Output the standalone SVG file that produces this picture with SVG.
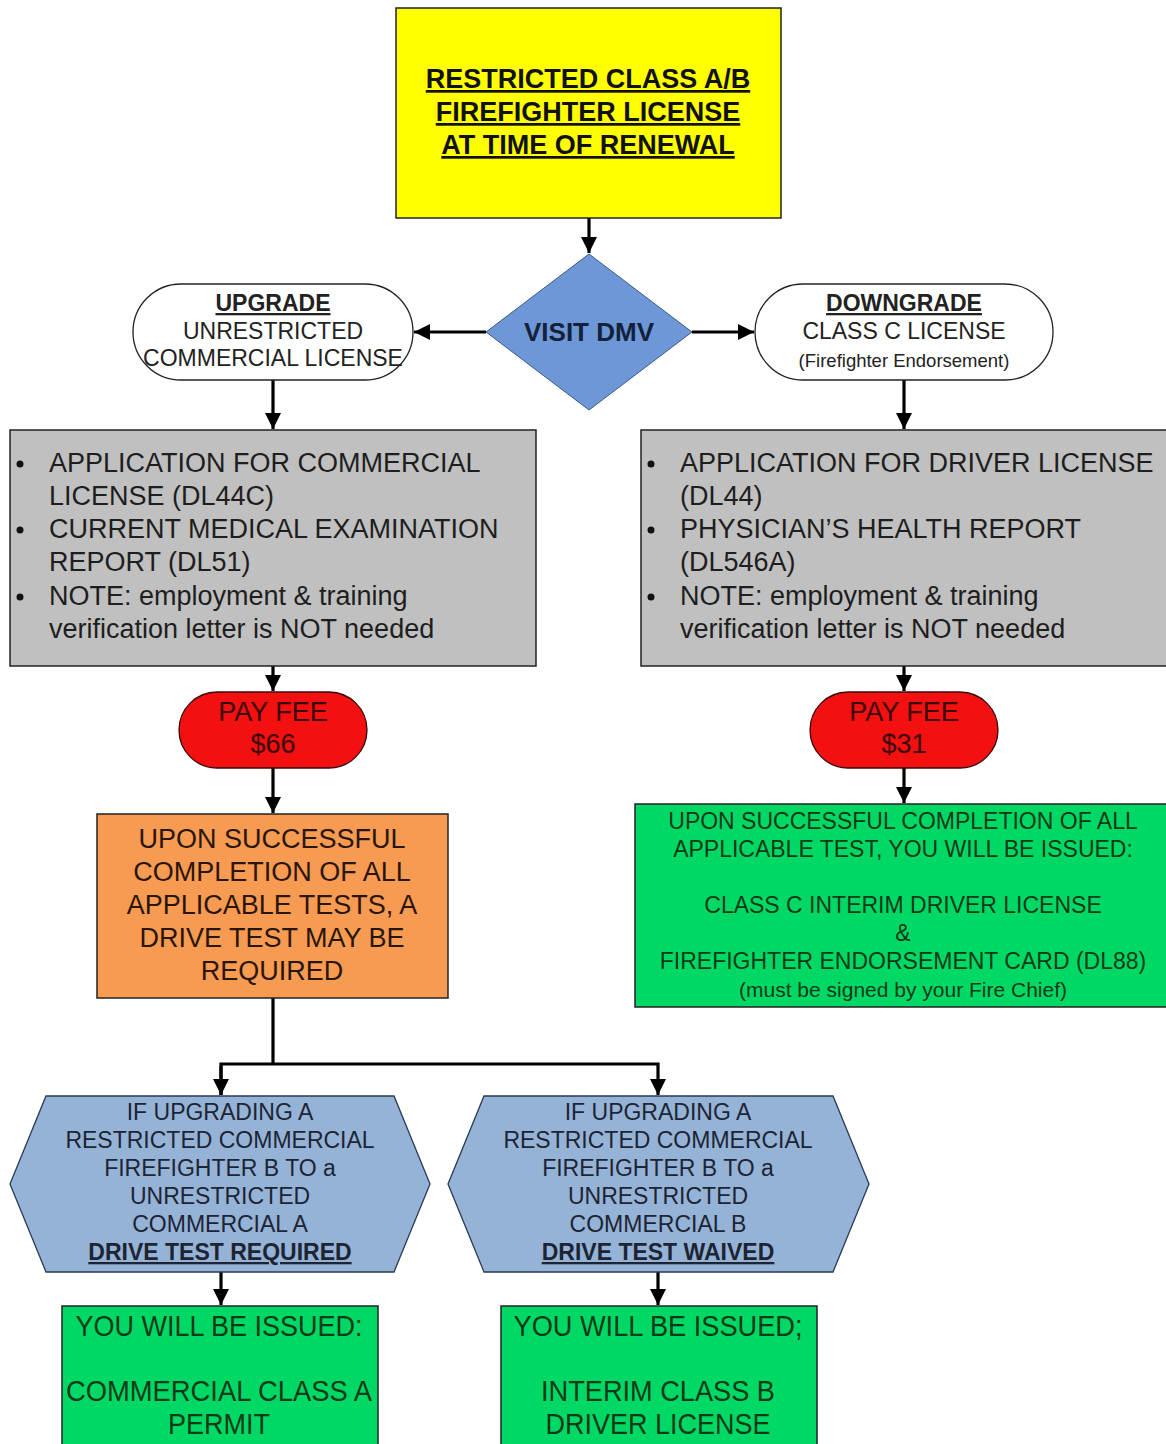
<svg xmlns="http://www.w3.org/2000/svg" width="1166" height="1444" viewBox="0 0 1166 1444">
<defs>
<marker id="ah" viewBox="0 0 10 10" refX="10" refY="5" markerWidth="5" markerHeight="5" orient="auto" markerUnits="strokeWidth">
<path d="M0,0 L10,5 L0,10 z" fill="#000"/>
</marker>
<style>
text{font-family:"Liberation Sans",Arial,sans-serif;text-anchor:middle}
.b{font-weight:bold}
.u{text-decoration:underline}
.bd{stroke:#222;stroke-width:1.5}
.con{fill:none;stroke:#000;stroke-width:3.2}
.grey text{font-size:27px;fill:#1e1e1e;text-anchor:start}
.hex text{font-size:23px;fill:#1d2433}
.fee text{font-size:27px;fill:#3a0808}
.gr text{fill:#0e3a18}
</style>
</defs>
<rect width="1166" height="1444" fill="#fff"/>

<g id="connectors">
<line class="con" x1="589" y1="218" x2="589" y2="253" marker-end="url(#ah)"/>
<line class="con" x1="486" y1="332" x2="414" y2="332" marker-end="url(#ah)"/>
<line class="con" x1="692" y1="332" x2="754" y2="332" marker-end="url(#ah)"/>
<line class="con" x1="273" y1="380" x2="273" y2="429" marker-end="url(#ah)"/>
<line class="con" x1="904" y1="380" x2="904" y2="429" marker-end="url(#ah)"/>
<line class="con" x1="273" y1="666" x2="273" y2="691" marker-end="url(#ah)"/>
<line class="con" x1="904" y1="666" x2="904" y2="691" marker-end="url(#ah)"/>
<line class="con" x1="273" y1="768" x2="273" y2="813" marker-end="url(#ah)"/>
<line class="con" x1="904" y1="768" x2="904" y2="803" marker-end="url(#ah)"/>
<polyline class="con" points="273,998 273,1064"/>
<polyline class="con" points="221,1095 221,1064 658,1064 658,1095" marker-end="url(#ah)"/>
<line class="con" x1="221" y1="1066" x2="221" y2="1095" marker-end="url(#ah)"/>
<line class="con" x1="221" y1="1272" x2="221" y2="1305" marker-end="url(#ah)"/>
<line class="con" x1="658" y1="1272" x2="658" y2="1305" marker-end="url(#ah)"/>
</g>

<g id="start">
<rect x="396" y="8" width="385" height="210" fill="#ffff00" class="bd"/>
<text x="588" y="88" class="b u" font-size="27" fill="#111">RESTRICTED CLASS A/B</text>
<text x="588" y="121" class="b u" font-size="27" fill="#111">FIREFIGHTER LICENSE</text>
<text x="588" y="154" class="b u" font-size="27" fill="#111">AT TIME OF RENEWAL</text>
</g>

<g id="visit-dmv">
<polygon points="589,254 692,332 589,410 486,332" fill="#6d97d6" stroke="#3d5a8a" stroke-width="1"/>
<text x="589" y="341" class="b" font-size="26" fill="#13223a">VISIT DMV</text>
</g>

<g id="upgrade">
<rect x="133" y="284" width="280" height="96" rx="48" ry="48" fill="#fff" stroke="#222" stroke-width="1.3"/>
<text x="273" y="311" class="b u" font-size="23" fill="#222">UPGRADE</text>
<text x="273" y="339" font-size="23" fill="#222">UNRESTRICTED</text>
<text x="273" y="366" font-size="23" fill="#222">COMMERCIAL LICENSE</text>
</g>

<g id="downgrade">
<rect x="755" y="284" width="298" height="96" rx="48" ry="48" fill="#fff" stroke="#222" stroke-width="1.3"/>
<text x="904" y="311" class="b u" font-size="23" fill="#222">DOWNGRADE</text>
<text x="904" y="339" font-size="23" fill="#222">CLASS C LICENSE</text>
<text x="904" y="367" font-size="18.5" fill="#222">(Firefighter Endorsement)</text>
</g>

<g id="upgrade-docs" class="grey">
<rect x="10" y="430" width="526" height="236" fill="#c0c0c0" class="bd"/>
<circle cx="20" cy="464" r="3.5" fill="#111"/>
<circle cx="20" cy="530" r="3.5" fill="#111"/>
<circle cx="20" cy="597" r="3.5" fill="#111"/>
<text x="49" y="472">APPLICATION FOR COMMERCIAL</text>
<text x="49" y="505">LICENSE (DL44C)</text>
<text x="49" y="538">CURRENT MEDICAL EXAMINATION</text>
<text x="49" y="571">REPORT (DL51)</text>
<text x="49" y="605">NOTE: employment &amp; training</text>
<text x="49" y="638">verification letter is NOT needed</text>
</g>

<g id="downgrade-docs" class="grey">
<rect x="641" y="430" width="530" height="236" fill="#c0c0c0" class="bd"/>
<circle cx="651" cy="464" r="3.5" fill="#111"/>
<circle cx="651" cy="530" r="3.5" fill="#111"/>
<circle cx="651" cy="597" r="3.5" fill="#111"/>
<text x="680" y="472">APPLICATION FOR DRIVER LICENSE</text>
<text x="680" y="505">(DL44)</text>
<text x="680" y="538">PHYSICIAN’S HEALTH REPORT</text>
<text x="680" y="571">(DL546A)</text>
<text x="680" y="605">NOTE: employment &amp; training</text>
<text x="680" y="638">verification letter is NOT needed</text>
</g>

<g id="fee-66" class="fee">
<rect x="179" y="692" width="188" height="76" rx="38" ry="38" fill="#f21010" stroke="#3a0a0a" stroke-width="1.3"/>
<text x="273" y="721">PAY FEE</text>
<text x="273" y="753">$66</text>
</g>

<g id="fee-31" class="fee">
<rect x="810" y="692" width="188" height="76" rx="38" ry="38" fill="#f21010" stroke="#3a0a0a" stroke-width="1.3"/>
<text x="904" y="721">PAY FEE</text>
<text x="904" y="753">$31</text>
</g>

<g id="drive-test-maybe">
<rect x="97" y="814" width="351" height="184" fill="#f79a52" class="bd"/>
<text x="272" y="848" font-size="27" fill="#2a1608">UPON SUCCESSFUL</text>
<text x="272" y="881" font-size="27" fill="#2a1608">COMPLETION OF ALL</text>
<text x="272" y="914" font-size="27" fill="#2a1608">APPLICABLE TESTS, A</text>
<text x="272" y="947" font-size="27" fill="#2a1608">DRIVE TEST MAY BE</text>
<text x="272" y="980" font-size="27" fill="#2a1608">REQUIRED</text>
</g>

<g id="class-c-issued" class="gr">
<rect x="635" y="804" width="536" height="203" fill="#00d865" class="bd"/>
<text x="903" y="829" font-size="23">UPON SUCCESSFUL COMPLETION OF ALL</text>
<text x="903" y="857" font-size="23">APPLICABLE TEST, YOU WILL BE ISSUED:</text>
<text x="903" y="913" font-size="23">CLASS C INTERIM DRIVER LICENSE</text>
<text x="903" y="941" font-size="23">&amp;</text>
<text x="903" y="969" font-size="23">FIREFIGHTER ENDORSEMENT CARD (DL88)</text>
<text x="903" y="997" font-size="21">(must be signed by your Fire Chief)</text>
</g>

<g id="drive-required" class="hex">
<polygon points="10,1184 46,1096 394,1096 430,1184 394,1272 46,1272" fill="#95b3d7" stroke="#2a3a55" stroke-width="1.3"/>
<text x="220" y="1120">IF UPGRADING A</text>
<text x="220" y="1148">RESTRICTED COMMERCIAL</text>
<text x="220" y="1176">FIREFIGHTER B TO a</text>
<text x="220" y="1204">UNRESTRICTED</text>
<text x="220" y="1232">COMMERCIAL A</text>
<text x="220" y="1260" class="b u">DRIVE TEST REQUIRED</text>
</g>

<g id="drive-waived" class="hex">
<polygon points="448,1184 484,1096 833,1096 869,1184 833,1272 484,1272" fill="#95b3d7" stroke="#2a3a55" stroke-width="1.3"/>
<text x="658" y="1120">IF UPGRADING A</text>
<text x="658" y="1148">RESTRICTED COMMERCIAL</text>
<text x="658" y="1176">FIREFIGHTER B TO a</text>
<text x="658" y="1204">UNRESTRICTED</text>
<text x="658" y="1232">COMMERCIAL B</text>
<text x="658" y="1260" class="b u">DRIVE TEST WAIVED</text>
</g>

<g id="class-a-permit" class="gr">
<rect x="62" y="1306" width="316" height="150" fill="#00d865" class="bd"/>
<text x="219" y="1336" font-size="29" textLength="287" lengthAdjust="spacingAndGlyphs">YOU WILL BE ISSUED:</text>
<text x="219" y="1401" font-size="29" textLength="306" lengthAdjust="spacingAndGlyphs">COMMERCIAL CLASS A</text>
<text x="219" y="1434" font-size="29" textLength="102" lengthAdjust="spacingAndGlyphs">PERMIT</text>
</g>

<g id="class-b-interim" class="gr">
<rect x="501" y="1306" width="316" height="150" fill="#00d865" class="bd"/>
<text x="658" y="1336" font-size="29" textLength="289" lengthAdjust="spacingAndGlyphs">YOU WILL BE ISSUED;</text>
<text x="658" y="1401" font-size="29" textLength="234" lengthAdjust="spacingAndGlyphs">INTERIM CLASS B</text>
<text x="658" y="1434" font-size="29" textLength="225" lengthAdjust="spacingAndGlyphs">DRIVER LICENSE</text>
</g>
</svg>
